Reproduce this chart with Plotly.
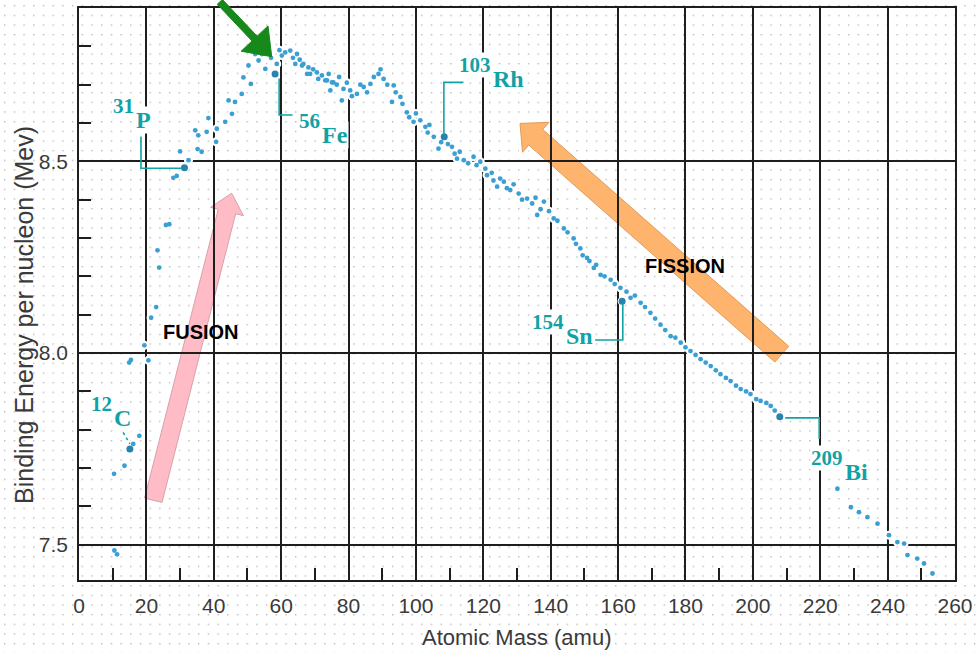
import base64
import math
import plotly.graph_objects as go

# ---------------- data ----------------
mass_number = [
    10.5, 11.3, 10.4, 13.5, 16.1, 17.9, 14.9, 15.4, 20.6, 19.4, 21.4, 22.9, 23.8, 23.3,
    25.8, 26.8, 28.0, 29.0, 30.0, 32.5, 35.2, 36.4, 34.5, 35.4, 37.9, 40.7, 38.4, 40.9,
    43.4, 45.4, 44.4, 46.3, 48.3, 48.8, 51.0, 50.3, 52.3, 54.3, 53.3, 55.3, 58.7, 60.2,
    61.2, 62.7, 64.7, 64.2, 66.2, 68.1, 67.7, 70.6, 72.1, 74.1, 73.6, 75.5, 74.6, 66.6,
    68.6, 73.1, 75.1, 78.0, 78.5, 80.5, 82.5, 84.5, 86.5, 88.9, 90.4, 93.4, 92.9, 95.4,
    97.3, 99.3, 101.3, 102.8, 105.3, 106.7, 110.7, 112.2, 114.2, 117.1, 119.1, 120.6,
    121.1, 124.1, 126.1, 128.0, 130.5, 133.0, 136.0, 138.0, 140.9, 143.9, 146.8, 148.8,
    150.8, 152.8, 154.8, 157.8, 160.7, 163.7, 166.7, 169.6, 172.6, 175.6, 178.6, 181.5,
    184.5, 187.5, 190.4, 193.4, 196.4, 199.3, 202.3, 205.3, 225.1, 229.1, 231.5, 234.0,
    237.0, 240.4, 242.9, 244.9, 245.9, 248.8, 250.8, 253.3,
    57.0, 59.5, 63.5, 65.5, 69.5, 71.0, 76.5, 77.2, 79.5, 81.0, 83.5, 85.5, 87.5, 89.5,
    91.5, 94.0, 96.0, 98.0, 100.0, 103.5, 104.0, 107.5, 109.5, 111.5, 113.0, 115.5,
    118.0, 122.5, 123.0, 125.0, 127.0, 129.0, 131.5, 134.5, 135.5, 137.0, 139.5, 142.0,
    145.0, 147.5, 149.5, 151.5, 153.5, 156.0, 159.0, 162.5, 165.0, 168.0, 171.0, 174.0,
    177.0, 180.0, 183.0, 186.0, 189.0, 192.0, 195.0, 198.0, 201.0, 204.0, 206.5,
]
binding_energy = [
    7.485, 7.475, 7.685, 7.706, 7.763, 7.784, 7.975, 7.982, 7.981, 8.020, 8.092, 8.120, 8.223, 8.268,
    8.334, 8.336, 8.457, 8.462, 8.526, 8.503, 8.532, 8.525, 8.581, 8.568, 8.577, 8.551, 8.613, 8.585,
    8.603, 8.624, 8.659, 8.655, 8.676, 8.719, 8.702, 8.750, 8.780, 8.780, 8.763, 8.741, 8.754, 8.776,
    8.784, 8.789, 8.780, 8.754, 8.750, 8.745, 8.728, 8.732, 8.724, 8.728, 8.711, 8.706, 8.685, 8.754,
    8.728, 8.711, 8.706, 8.659, 8.689, 8.685, 8.676, 8.694, 8.702, 8.728, 8.715, 8.698, 8.655, 8.668,
    8.628, 8.603, 8.607, 8.590, 8.564, 8.533, 8.538, 8.507, 8.503, 8.512, 8.499, 8.481,
    8.464, 8.434, 8.447, 8.425, 8.416, 8.403, 8.360, 8.395, 8.351, 8.325, 8.299, 8.273,
    8.248, 8.222, 8.204, 8.191, 8.170, 8.144, 8.131, 8.105, 8.074, 8.044, 8.027, 8.005,
    7.984, 7.966, 7.945, 7.927, 7.906, 7.893, 7.875, 7.862, 7.646, 7.598, 7.585, 7.572,
    7.555, 7.525, 7.507, 7.503, 7.473, 7.464, 7.451, 7.425,
    8.770, 8.790, 8.770, 8.765, 8.740, 8.715, 8.700, 8.720, 8.705, 8.670, 8.700, 8.680, 8.720, 8.740,
    8.700, 8.680, 8.650, 8.615, 8.625, 8.575, 8.595, 8.550, 8.545, 8.520, 8.525, 8.495,
    8.490, 8.470, 8.450, 8.455, 8.430, 8.440, 8.400, 8.390, 8.405, 8.375, 8.370, 8.345,
    8.315, 8.285, 8.255, 8.240, 8.230, 8.200, 8.180, 8.160, 8.150, 8.120, 8.090, 8.060,
    8.040, 8.015, 7.995, 7.975, 7.955, 7.935, 7.915, 7.900, 7.880, 7.870, 7.850,
]

# labelled nuclides
nuclide_numbers = ["12", "31", "56", "103", "154", "209"]
nuclide_symbols = ["C", "P", "Fe", "Rh", "Sn", "Bi"]
nuclide_mass = [15.1, 31.3, 58.2, 108.4, 161.2, 208.0]
nuclide_energy = [7.750, 8.483, 8.728, 8.564, 8.135, 7.834]

x_tick_values = list(range(0, 261, 20))
y_tick_values = [7.5, 8.0, 8.5]

# ---------------- layout geometry / styles ----------------
W, H = 980, 653
L, R, T, B = 79, 25, 6, 73
PW, PH = W - L - R, H - T - B
X_RANGE = [0, 260]
Y_RANGE = [7.408, 8.9]

TEAL = "#12a2a6"
DOT = "#3c9fd4"
DOT_DARK = "#2a82ae"
GRID = "#1e1e1e"
TXT = "#3a3a3a"


def data_to_px(a, e):
    px = L + (a - X_RANGE[0]) / (X_RANGE[1] - X_RANGE[0]) * PW
    py = T + (Y_RANGE[1] - e) / (Y_RANGE[1] - Y_RANGE[0]) * PH
    return px, py


def px_to_paper(px, py):
    return (px - L) / PW, (T + PH - py) / PH


def arrow_path(tail, tip, shaft_w, head_w, head_len):
    (x0, y0), (x1, y1) = data_to_px(*tail), data_to_px(*tip)
    dx, dy = x1 - x0, y1 - y0
    n = math.hypot(dx, dy)
    ux, uy = dx / n, dy / n
    nx, ny = -uy, ux
    neck = (x1 - ux * head_len, y1 - uy * head_len)
    pts = [
        (x0 + nx * shaft_w / 2, y0 + ny * shaft_w / 2),
        (neck[0] + nx * shaft_w / 2, neck[1] + ny * shaft_w / 2),
        (neck[0] + nx * head_w / 2, neck[1] + ny * head_w / 2),
        (x1, y1),
        (neck[0] - nx * head_w / 2, neck[1] - ny * head_w / 2),
        (neck[0] - nx * shaft_w / 2, neck[1] - ny * shaft_w / 2),
        (x0 - nx * shaft_w / 2, y0 - ny * shaft_w / 2),
    ]
    pp = [px_to_paper(*p) for p in pts]
    return "M " + " L ".join(f"{a:.5f},{b:.5f}" for a, b in pp) + " Z"


fig = go.Figure()

# white halo behind the dots (breaks the grid lines like the original)
fig.add_trace(go.Scatter(x=mass_number + nuclide_mass, y=binding_energy + nuclide_energy,
                         mode="markers", marker=dict(size=9, color="white"),
                         hoverinfo="skip", showlegend=False))
fig.add_trace(go.Scatter(x=mass_number, y=binding_energy, mode="markers",
                         marker=dict(size=4.8, color=DOT, line=dict(width=0)),
                         showlegend=False))
fig.add_trace(go.Scatter(x=nuclide_mass, y=nuclide_energy, mode="markers",
                         marker=dict(size=7, color=DOT_DARK, line=dict(width=0)),
                         showlegend=False))

shapes = []
# leader lines (in data coords)
leaders = [
    [(13.1, 7.793), (15.1, 7.763)],
    [(18.4, 8.565), (18.4, 8.482), (30.6, 8.482)],
    [(59.4, 8.716), (59.4, 8.621), (63.4, 8.621)],
    [(114.1, 8.706), (108.3, 8.706), (108.3, 8.569)],
    [(161.4, 8.131), (161.4, 8.034), (153.2, 8.034)],
    [(209.6, 7.831), (219.7, 7.831), (219.7, 7.776)],
]
for i, pts in enumerate(leaders):
    path = "M " + " L ".join(f"{a},{b}" for a, b in pts)
    shapes.append(dict(type="path", path=path, xref="x", yref="y",
                       line=dict(color=TEAL, width=1.6, dash="dot" if i == 0 else "solid"),
                       layer="above"))

# big arrows
arrows = [
    # tail, tip, shaft, head width, head length, fill, edge
    ((22.05, 7.616), (45.3, 8.417), 18, 34, 19, "#ffbcc6", "#d9a0aa"),
    ((208.6, 7.997), (130.9, 8.599), 21, 40, 21, "#ffb46e", "#e09a58"),
]
for tail, tip, sw, hw, hl, fill, edge in arrows:
    p = arrow_path(tail, tip, sw, hw, hl)
    shapes.append(dict(type="path", path=p, xref="paper", yref="paper",
                       fillcolor="white", line=dict(color="white", width=7), layer="between"))
    shapes.append(dict(type="path", path=p, xref="paper", yref="paper",
                       fillcolor=fill, line=dict(color=edge, width=1), layer="between"))

# green arrow pointing at the peak (starts above the plot)
shapes.append(dict(type="path", path=arrow_path((41.8, 8.916), (57.2, 8.773), 7, 37, 25),
                   xref="paper", yref="paper", fillcolor="#16891a",
                   line=dict(color="#16891a", width=1), layer="above"))

# dotted background pattern of the original page
svg = (f'<svg xmlns="http://www.w3.org/2000/svg" width="{W}" height="{H}" '
       f'viewBox="0 0 {W} {H}" preserveAspectRatio="none">'
       '<defs><pattern id="d" x="4" y="3" width="9.7" height="9.7" patternUnits="userSpaceOnUse">'
       '<rect width="1.4" height="1.4" fill="#b8b8b8"/></pattern></defs>'
       f'<rect width="{W}" height="{H}" fill="url(#d)"/></svg>')
src = "data:image/svg+xml;base64," + base64.b64encode(svg.encode()).decode()

annotations = []
# nuclide labels: raised mass number + element symbol
label_pos = [(10.2, 7.830), (16.6, 8.609), (71.7, 8.570), (122.7, 8.714), (144.1, 8.045), (227.2, 7.691)]
for num, sym, (a, e) in zip(nuclide_numbers, nuclide_symbols, label_pos):
    annotations.append(dict(x=a, y=e, xref="x", yref="y", text=sym, showarrow=False,
                            xanchor="left", yanchor="middle", bgcolor="white", borderpad=0,
                            font=dict(family="Liberation Serif", size=24, color=TEAL, weight="bold")))
    annotations.append(dict(x=a, y=e, xref="x", yref="y", text=num, showarrow=False,
                            xanchor="right", yanchor="middle", yshift=14, bgcolor="white", borderpad=0,
                            font=dict(family="Liberation Serif", size=21, color=TEAL, weight="bold")))

annotations.append(dict(x=36.2, y=8.055, xref="x", yref="y", text="FUSION", showarrow=False,
                        font=dict(family="Liberation Sans", size=20, color="black", weight="bold")))
annotations.append(dict(x=180.0, y=8.226, xref="x", yref="y", text="FISSION", showarrow=False,
                        font=dict(family="Liberation Sans", size=20, color="black", weight="bold")))

# axis titles
annotations.append(dict(x=px_to_paper(516, 0)[0], y=px_to_paper(0, 638)[1], xref="paper", yref="paper",
                        text="Atomic Mass (amu)", showarrow=False, xanchor="center", yanchor="middle",
                        font=dict(family="Liberation Sans", size=22, color=TXT)))
annotations.append(dict(x=px_to_paper(24, 0)[0], y=px_to_paper(0, 314)[1], xref="paper", yref="paper",
                        text="Binding Energy per nucleon (Mev)", showarrow=False, textangle=-90,
                        xanchor="center", yanchor="middle",
                        font=dict(family="Liberation Sans", size=25, color=TXT)))

fig.update_layout(
    width=W, height=H,
    margin=dict(l=L, r=R, t=T, b=B),
    paper_bgcolor="white", plot_bgcolor="rgba(0,0,0,0)",
    shapes=shapes, annotations=annotations,
    images=[dict(source=src, xref="paper", yref="paper", x=-L / PW, y=1 + T / PH,
                 sizex=W / PW, sizey=H / PH, sizing="stretch", xanchor="left", yanchor="top",
                 layer="below")],
    font=dict(family="Liberation Sans", color=TXT),
)
fig.update_xaxes(
    range=X_RANGE, tickmode="array", tickvals=x_tick_values,
    ticktext=[str(v) for v in x_tick_values],
    ticks="inside", ticklen=12, tickwidth=1.5, tickcolor=GRID,
    showgrid=True, gridcolor=GRID, gridwidth=1.6,
    showline=True, linecolor=GRID, linewidth=1.6, mirror=True,
    zeroline=False, ticklabelstandoff=6,
    tickfont=dict(family="Liberation Sans", size=21, color=TXT),
    minor=dict(tickmode="linear", tick0=0, dtick=10, ticks="inside", ticklen=12,
               tickwidth=1.5, tickcolor=GRID, showgrid=False),
)
fig.update_yaxes(
    range=Y_RANGE, tickmode="array", tickvals=y_tick_values,
    ticktext=[f"{v:.1f}" for v in y_tick_values],
    ticks="inside", ticklen=12, tickwidth=1.5, tickcolor=GRID,
    showgrid=True, gridcolor=GRID, gridwidth=1.6,
    showline=True, linecolor=GRID, linewidth=1.6, mirror=True,
    zeroline=False, ticklabelstandoff=5,
    tickfont=dict(family="Liberation Sans", size=21, color=TXT),
    minor=dict(tickmode="linear", tick0=7.5, dtick=0.1, ticks="inside", ticklen=12,
               tickwidth=1.5, tickcolor=GRID, showgrid=False),
)

fig.write_html(
    "out.html",
    config={"displayModeBar": False},
    post_script="document.body.style.margin='0';document.body.style.overflow='hidden';",
)
